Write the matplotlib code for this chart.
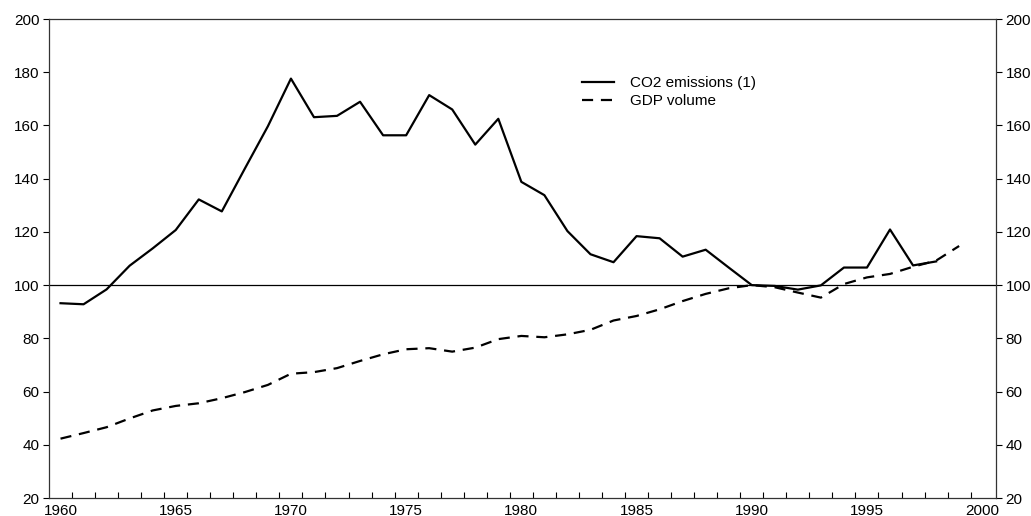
import matplotlib
matplotlib.use("Agg")
import matplotlib.pyplot as plt
from matplotlib.ticker import FixedLocator

plt.rcParams['font.family'] = ['Liberation Sans', 'DejaVu Sans']

# indices, 1990 = 100
years_co2 = list(range(1960, 1999))
co2 = [93.2, 92.8, 98.4, 107.3, 113.8, 120.7, 132.2, 127.7, 143.8, 159.7,
       177.6, 163.1, 163.6, 168.9, 156.3, 156.3, 171.4, 166.0, 152.8, 162.5,
       138.8, 133.8, 120.3, 111.6, 108.6, 118.4, 117.6, 110.7, 113.3, 106.6,
       100.0, 99.7, 98.3, 99.9, 106.6, 106.6, 120.9, 107.4, 108.9]

years_gdp = list(range(1960, 2000))
gdp = [42.3, 44.4, 46.6, 49.9, 52.9, 54.6, 55.6, 57.5, 59.8, 62.5,
       66.7, 67.3, 68.8, 71.5, 74.0, 75.9, 76.3, 75.0, 76.5, 79.7,
       80.9, 80.4, 81.5, 83.2, 86.7, 88.4, 90.9, 94.0, 96.7, 98.8,
       100.0, 99.2, 97.2, 95.3, 100.4, 102.9, 104.2, 106.9, 109.2, 114.7]

year_labels = [1960, 1965, 1970, 1975, 1980, 1985, 1990, 1995, 2000]
y_ticks = [20, 40, 60, 80, 100, 120, 140, 160, 180, 200]

fig = plt.figure(figsize=(10.31, 5.16), dpi=100)
ax = fig.add_axes([49 / 1031, 1 - 498 / 516, 947 / 1031, 479 / 516])

ax.axhline(100, color='black', lw=0.9, zorder=1)
ax.plot(years_co2, co2, color='black', lw=1.6, label='CO2 emissions (1)', zorder=3)
ax.plot(years_gdp, gdp, color='black', lw=1.6, dashes=(5, 3.5), label='GDP volume', zorder=2)

ax.set_xlim(1959.5, 2000.6)
ax.set_ylim(20, 200)

# year labels sit between the tick marks
ax.xaxis.set_major_locator(FixedLocator(year_labels))
ax.xaxis.set_minor_locator(FixedLocator([y + 0.5 for y in range(1960, 2000)]))
ax.tick_params(axis='x', which='major', length=0, pad=4, labelsize=11)
ax.tick_params(axis='x', which='minor', length=4, direction='in', width=0.8)

ax.set_yticks(y_ticks)
ax.tick_params(axis='y', which='major', direction='out', length=4, width=0.8,
               left=True, right=True, labelleft=True, labelright=True, labelsize=11, pad=3)

for s in ax.spines.values():
    s.set_linewidth(0.9)
    s.set_color('#333333')

ax.legend(loc='upper left', bbox_to_anchor=(0.548, 0.91), frameon=False, fontsize=11,
          handlelength=2.1, handletextpad=1.05, labelspacing=0.3)

fig.savefig('out.png', dpi=100)
